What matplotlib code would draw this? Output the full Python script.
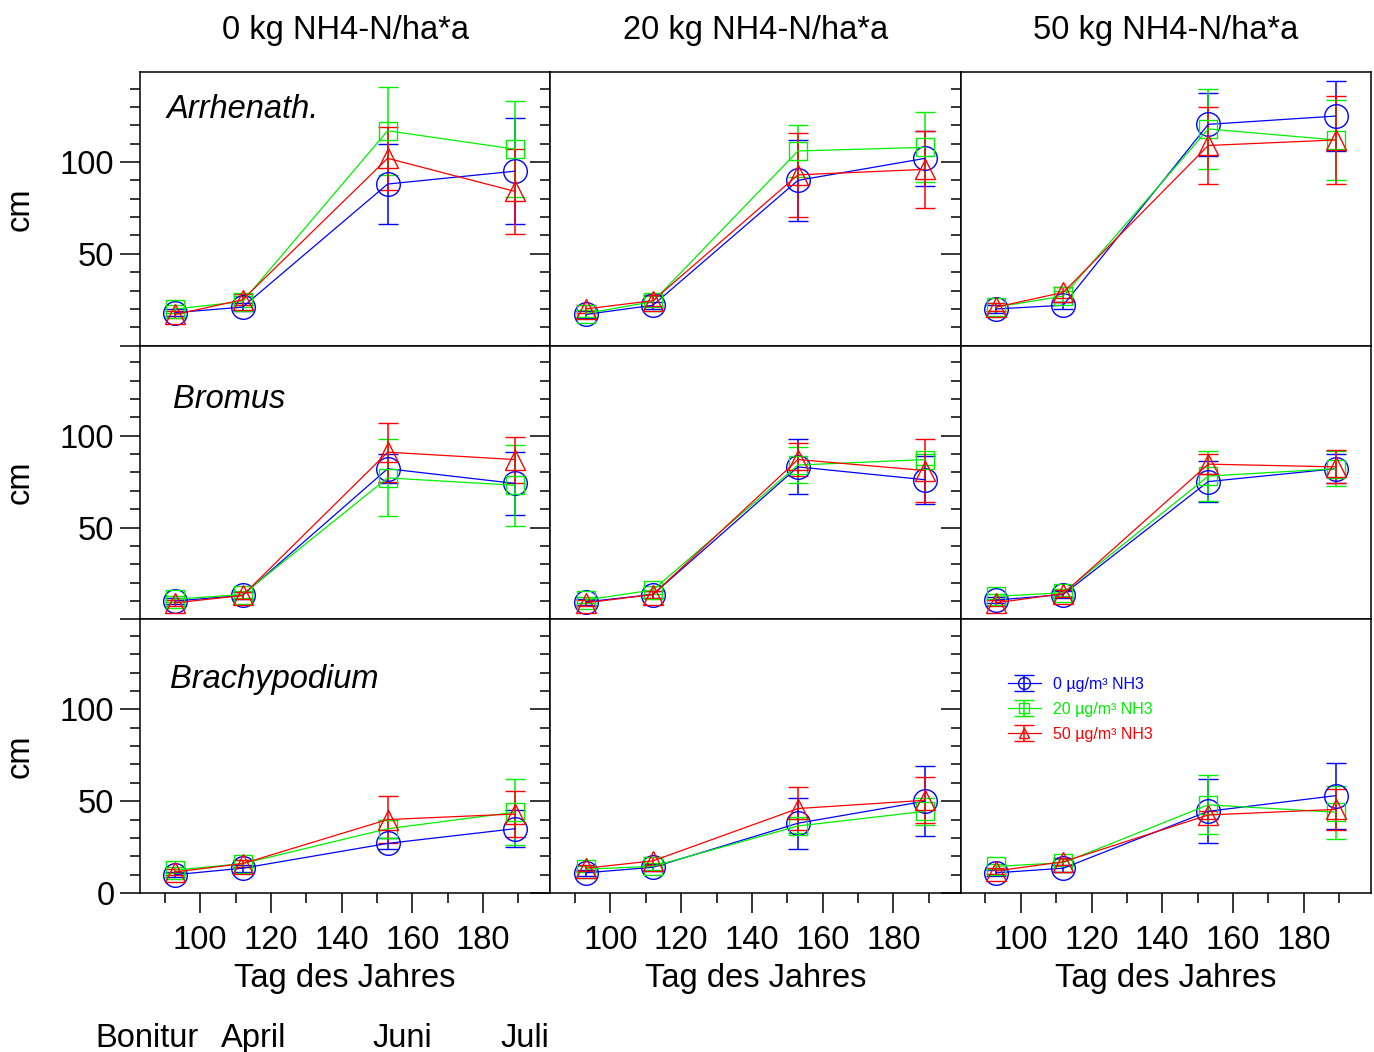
import matplotlib.pyplot as plt
from matplotlib.ticker import MultipleLocator

plt.rcParams['font.family'] = ['Liberation Sans', 'DejaVu Sans']

# sampling days (day of year)
days = [93, 112, 153, 189]

# mean plant height in cm, rows: 0 / 20 / 50 ug/m3 NH3
arrh_0kg = [[18, 21, 88, 95], [20, 24, 117, 107], [17, 25, 102, 84]]
arrh_20kg = [[17, 22, 90, 102], [17.5, 24, 106, 108], [20, 24.5, 93, 96]]
arrh_50kg = [[20, 22, 120.5, 125], [21, 27, 118, 112], [21, 29, 109, 112]]
brom_0kg = [[10, 13, 82, 74], [11, 13.5, 77, 73], [9, 13, 91, 87]]
brom_20kg = [[9.5, 13.5, 83, 76], [10.5, 16, 84, 87], [9, 13.5, 87, 81]]
brom_50kg = [[10.5, 13.5, 75, 82], [12.5, 14.5, 78, 82], [9, 14, 84.5, 83]]
brach_0kg = [[10, 13.5, 27, 35], [12.5, 16, 35, 44], [11.5, 16, 40, 43]]
brach_20kg = [[11, 14, 38, 50], [13, 14.5, 36.5, 44.5], [13.5, 17.5, 46, 50.5]]
brach_50kg = [[11, 13.5, 44.5, 53], [14.5, 16.5, 48, 44], [12, 17, 42.5, 45.5]]

# standard deviations
arrh_0kg_sd = [[2, 2, 22, 29], [2, 3, 24, 26], [2, 3, 17, 23]]
arrh_20kg_sd = [[2, 2, 22, 15], [2, 3, 14, 19], [2, 3, 23, 21]]
arrh_50kg_sd = [[2, 2, 17, 19], [2, 3, 22, 22], [2, 3, 21, 24]]
brom_0kg_sd = [[1.5, 2, 8, 17], [1.5, 2, 21, 22], [1.5, 2, 16, 12.5]]
brom_20kg_sd = [[1.5, 2, 15, 13], [1.5, 2, 10, 3], [1.5, 2, 9, 17]]
brom_50kg_sd = [[1.5, 2, 11, 8], [1.5, 2, 13.5, 9.5], [1.5, 2, 5.5, 9]]
brach_0kg_sd = [[1.5, 2, 3, 10], [1.5, 2, 5, 18], [1.5, 2, 13, 12.5]]
brach_20kg_sd = [[1.5, 2, 14, 19], [1.5, 2, 4, 7.5], [1.5, 2, 11.5, 12.5]]
brach_50kg_sd = [[1.5, 2, 17.5, 18], [1.5, 2, 16, 14.5], [1.5, 2, 2, 11]]

species = ['Arrhenath.', 'Bromus', 'Brachypodium']
fertilizer = ['0 kg NH4-N/ha*a', '20 kg NH4-N/ha*a', '50 kg NH4-N/ha*a']
series = ['0 µg/m³ NH3', '20 µg/m³ NH3', '50 µg/m³ NH3']
months = ['Bonitur', 'April', 'Juni', 'Juli']

means = [[arrh_0kg, arrh_20kg, arrh_50kg],
         [brom_0kg, brom_20kg, brom_50kg],
         [brach_0kg, brach_20kg, brach_50kg]]
sds = [[arrh_0kg_sd, arrh_20kg_sd, arrh_50kg_sd],
       [brom_0kg_sd, brom_20kg_sd, brom_50kg_sd],
       [brach_0kg_sd, brach_20kg_sd, brach_50kg_sd]]

colors = ['#0000ff', '#00f000', '#ff0000']
markers = ['o', 's', '^']
msizes = [17, 13, 14]
fs = 23.5

W, H = 1374, 1052
fig = plt.figure(figsize=(W / 100, H / 100), dpi=100)

x0, pw = 140, 410.33
y0, ph = 72, 273.67
label_x = [0.066, 0.08, 0.073]
label_y = [0.862, 0.803, 0.78]

for r in range(3):
    for c in range(3):
        ax = fig.add_axes([(x0 + c * pw) / W, 1 - (y0 + (r + 1) * ph) / H, pw / W, ph / H])
        conts = []
        for k in range(3):
            eb = ax.errorbar(days, means[r][c][k], yerr=sds[r][c][k], color=colors[k],
                             marker=markers[k], ms=msizes[k], mfc='none', mec=colors[k],
                             mew=1.0, lw=0.9, elinewidth=1.1, capsize=7.5, capthick=1.6,
                             label=series[k])
            conts.append(eb)
        ax.set_xlim(83, 199)
        ax.set_ylim(0, 149)
        for s in ax.spines.values():
            s.set_linewidth(1.1)
        ax.xaxis.set_major_locator(MultipleLocator(20))
        ax.xaxis.set_minor_locator(MultipleLocator(10))
        ax.set_yticks([0, 50, 100])
        ax.yaxis.set_minor_locator(MultipleLocator(10))
        ax.tick_params(which='major', direction='out', length=14.4, width=1.1,
                       labelsize=fs, pad=4)
        ax.tick_params(which='minor', direction='out', length=7.2, width=1.1)
        ax.tick_params(axis='x', pad=8.5)

        if c == 0:
            ax.set_yticklabels(['0' if r == 2 else '', '50', '100'])
            ax.text(label_x[r], label_y[r], species[r], transform=ax.transAxes,
                    fontsize=fs, style='italic', va='center', ha='left')
        else:
            ax.set_yticklabels([])
        if r == 2:
            ax.set_xlabel('Tag des Jahres', fontsize=fs, labelpad=5)
        else:
            ax.set_xticklabels([])
        if r == 0:
            ax.set_title(fertilizer[c], fontsize=fs, pad=24)

        if r == 2 and c == 2:
            leg = ax.legend(handles=conts, loc='upper left', bbox_to_anchor=(0.1145, 0.79),
                            frameon=False, fontsize=11.5, markerscale=0.5,
                            handlelength=2.1, handletextpad=0.75, labelspacing=0.62,
                            borderpad=0, borderaxespad=0)
            for t, col in zip(leg.get_texts(), colors):
                t.set_color(col)

# y axis units per row
for r in range(3):
    fig.text(20 / W, 1 - (y0 + (r + 0.5) * ph) / H, 'cm', rotation=90,
             fontsize=fs, va='center', ha='center')

# month names under the first column
month_x = [147, 254, 402, 525]
for m, mx in zip(months, month_x):
    fig.text(mx / W, 1 - 1047 / H, m, fontsize=fs, ha='center', va='baseline')

fig.savefig('out.png', dpi=100)
